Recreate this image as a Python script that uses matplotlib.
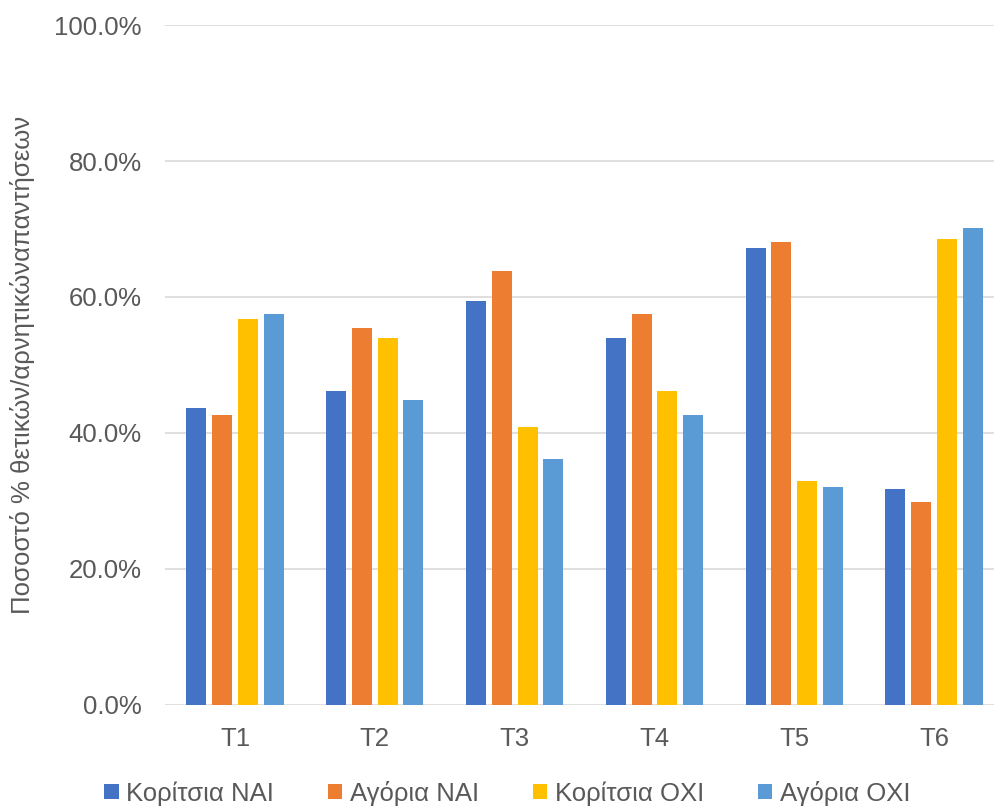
import numpy as np
import matplotlib.pyplot as plt
from matplotlib.ticker import FuncFormatter

categories = ["T1", "T2", "T3", "T4", "T5", "T6"]
girls_yes = [43.6, 46.1, 59.4, 54.0, 67.2, 31.7]
boys_yes = [42.7, 55.4, 63.8, 57.5, 68.1, 29.9]
girls_no = [56.7, 54.0, 40.9, 46.1, 32.9, 68.5]
boys_no = [57.5, 44.8, 36.2, 42.7, 32.0, 70.2]

series = [
    ("Κορίτσια ΝΑΙ", girls_yes, "#4472c4"),
    ("Αγόρια ΝΑΙ", boys_yes, "#ed7d31"),
    ("Κορίτσια ΟΧΙ", girls_no, "#ffc000"),
    ("Αγόρια ΟΧΙ", boys_no, "#5b9bd5"),
]

plt.rcParams["font.family"] = ["Liberation Sans", "DejaVu Sans"]
text_color = "#595959"
fs = 18.5

fig = plt.figure(figsize=(9.95, 8.11), dpi=100)
ax = fig.add_axes([0.166, 0.131, 0.843, 0.838])

x = np.arange(len(categories))
step = 0.184
width = 0.143
for i, (label, vals, color) in enumerate(series):
    ax.bar(x + (i - 1.5) * step, vals, width=width, color=color, label=label, zorder=3)

ax.set_ylim(0, 100)
ax.set_xlim(-0.5, len(categories) - 0.5)
ax.set_yticks(np.arange(0, 101, 20))
ax.yaxis.set_major_formatter(FuncFormatter(lambda v, p: f"{v:.1f}%"))
ax.set_xticks(x)
ax.set_xticklabels(categories)
ax.tick_params(axis="both", length=0, labelsize=fs, colors=text_color)
ax.tick_params(axis="y", pad=17)
ax.tick_params(axis="x", pad=16)
ax.grid(axis="y", color="#d9d9d9", linewidth=1.2, zorder=0)
for s in ax.spines.values():
    s.set_visible(False)

ax.set_ylabel("Ποσοστό % θετικών/αρνητικώναπαντήσεων", fontsize=fs, color=text_color, labelpad=14)

leg = fig.legend(loc="lower center", bbox_to_anchor=(0.51, -0.022), ncol=4, frameon=False,
                 fontsize=fs, handlelength=0.55, handleheight=0.55, handletextpad=0.3,
                 columnspacing=2.1)
for t in leg.get_texts():
    t.set_color(text_color)

fig.savefig("out.png", dpi=100)
